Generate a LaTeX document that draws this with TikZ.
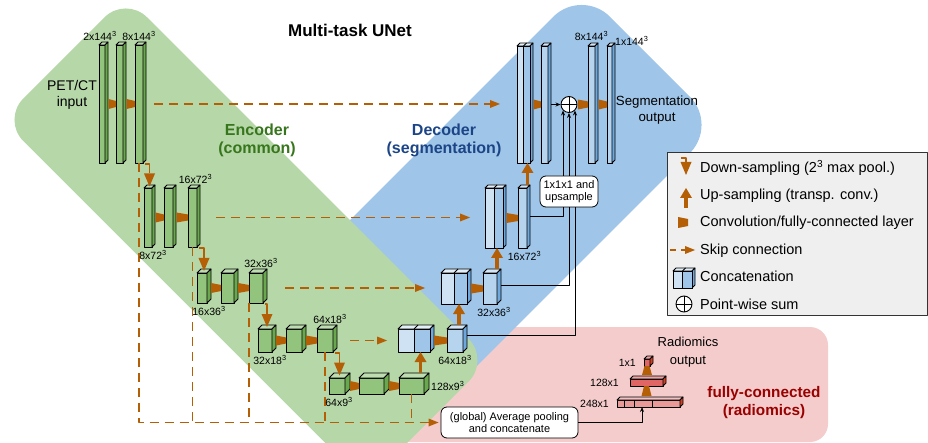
\documentclass[tikz,border=0pt]{standalone}
\usepackage{fontspec}
\setmainfont{Liberation Sans}
\usetikzlibrary{calc,positioning,arrows.meta}
\definecolor{bggreen}{HTML}{B6D7A8}
\definecolor{bgblue}{HTML}{9FC5E8}
\definecolor{bgpink}{HTML}{F4CCCC}
\definecolor{grnf}{HTML}{93C47D}
\definecolor{grns}{HTML}{6AA84F}
\definecolor{bluel}{HTML}{CFE2F3}
\definecolor{bluem}{HTML}{9FC5E8}
\definecolor{bluef}{HTML}{B7D4EE}
\definecolor{blues}{HTML}{6FA8DC}
\definecolor{pinkl}{HTML}{EA9999}
\definecolor{pinkm}{HTML}{E06666}
\definecolor{pinks}{HTML}{CC4125}
\definecolor{opc}{HTML}{B45F06}
\definecolor{enctxt}{HTML}{38761D}
\definecolor{dectxt}{HTML}{1C4587}
\definecolor{fctxt}{HTML}{990000}
\definecolor{lgd}{HTML}{EFEFEF}

\tikzset{
  fbox/.style={rectangle, draw, line width=0.8pt, inner sep=0pt, outer sep=0pt},
  boxline/.style={draw, line width=0.8pt, line join=round},
  bgband/.style={rectangle, inner sep=0pt, draw=none},
  dimlbl/.style={font=\fontsize{10.5}{12}\selectfont, inner sep=1pt},
  radlbl/.style={font=\fontsize{10.5}{12}\selectfont, inner sep=1pt},
  grouplbl/.style={font=\bfseries\fontsize{16}{18}\selectfont, align=center},
  txtlbl/.style={font=\fontsize{14}{15.5}\selectfont, align=center},
  lgtxt/.style={font=\fontsize{14.5}{16}\selectfont, anchor=base west, inner sep=0pt},
  notebox/.style={draw, fill=white, rounded corners=6pt, align=center, inner sep=1pt, line width=0.8pt, font=\fontsize{11}{12.5}\selectfont},
  sumop/.style={circle, draw, fill=white, minimum size=16pt, inner sep=0pt, line width=0.9pt},
  lnk/.style={draw, line width=0.9pt},
  lnkarr/.style={lnk, -{Stealth[length=5pt,width=4pt]}},
  skipdash/.style={draw=opc, line width=1.6pt, dash pattern=on 9pt off 6pt},
  skiparr/.style={skipdash, -{Triangle[length=10pt,width=8pt,line width=0pt]}},
  dnarr/.style={draw=opc, line width=1.2pt, -{Triangle[length=13pt,width=11pt,line width=0pt]}},
  uparr/.style={draw=opc, line width=3.5pt, -{Triangle[length=10pt,width=12pt,line width=0pt]}},
}

\newcommand{\featbox}[8]{%
  \node[fbox, fill=#7, minimum width={(#4-#2)*1pt}, minimum height={(#5-#3)*1pt}] (#1) at ({(#2+#4)/2},{(#3+#5)/2}) {};
  \filldraw[boxline, fill=#7!60!white] (#1.north west) -- ++(#6,-#6) -- ($(#1.north east)+(#6,-#6)$) -- (#1.north east) -- cycle;
  \filldraw[boxline, fill=#8] (#1.north east) -- ++(#6,-#6) -- ($(#1.south east)+(#6,-#6)$) -- (#1.south east) -- cycle;
}
\newcommand{\catbox}[6]{%
  \featbox{#1}{#2}{#3}{#4}{#5}{#6}{bluel}{blues}
  \filldraw[boxline, fill=bluem] (#1.north) rectangle (#1.south east);
  \draw[boxline] (#1.north) -- ++(#6,-#6);
}
\newcommand{\conv}[3][3.5]{%
  \fill[opc] ($(#2.east)+(#1,-5)$) -- ($(#2.east)+(#1,5)$) -- ($(#2.east -| #3.west)+(0,3)$) -- ($(#2.east -| #3.west)+(0,-3)$) -- cycle;
}
\newcommand{\vconv}[2]{%
  \fill[opc] ($(#2.south |- #1.north)+(-5,-4)$) -- ($(#2.south |- #1.north)+(5,-4)$) -- ($(#2.south)+(2.5,0)$) -- ($(#2.south)+(-2.5,0)$) -- cycle;
}

\begin{document}
\begin{tikzpicture}[x=1pt, y=-1pt, line join=round, >=stealth]
\useasboundingbox (0,0) rectangle (928,443);
\begin{scope}
  \clip (0,0) rectangle (928,443);
  \fill[bgpink, rounded corners=18pt] (380,327) rectangle (828,442);
  \node[bgband, fill=bgblue, rotate=45, rounded corners=40pt, minimum width=455pt, minimum height=193pt] (decbg) at (489,217.5) {};
  \node[bgband, fill=bggreen, rotate=-45, rounded corners=30pt, minimum width=515pt, minimum height=175pt] (encbg) at (246,240) {};
\end{scope}

\node[font=\bfseries\fontsize{17}{19}\selectfont] (ttl) at (350,30) {Multi-task UNet};
\node[txtlbl] (inp) at (72,95) {PET/CT\\input};
\node[grouplbl, text=enctxt] (enclbl) at (257,140) {Encoder\\(common)};
\node[grouplbl, text=dectxt] (declbl) at (444,140) {Decoder\\(segmentation)};
\node[txtlbl, font=\fontsize{13.3}{15.5}\selectfont] (segout) at (657,110) {Segmentation\\output};
\node[txtlbl, font=\fontsize{13}{18}\selectfont] (radout) at (688,352) {Radiomics\\output};
\node[grouplbl, text=fctxt, font=\bfseries\fontsize{15.3}{18}\selectfont] (fclbl) at (764,403) {fully-connected\\(radiomics)};

\featbox{s11}{99}{45}{105}{163}{3}{grnf}{grns}
\featbox{s12}{116}{45}{123}{163}{3}{grnf}{grns}
\featbox{s13}{135}{45}{143}{163}{3}{grnf}{grns}
\featbox{e21}{144}{188}{152}{247}{3}{grnf}{grns}
\featbox{e22}{164}{188}{173}{247}{3}{grnf}{grns}
\featbox{e23}{188}{188}{197}{247}{3}{grnf}{grns}
\featbox{e31}{197}{273}{207}{303}{4}{grnf}{grns}
\featbox{e32}{221}{273}{234}{303}{4}{grnf}{grns}
\featbox{e33}{249}{273}{263}{303}{4}{grnf}{grns}
\featbox{e41}{258}{329}{272}{352}{4}{grnf}{grns}
\featbox{e42}{286}{329}{302}{352}{4}{grnf}{grns}
\featbox{e43}{317}{329}{333}{352}{4}{grnf}{grns}
\featbox{e51}{329}{378}{345}{394}{5}{grnf}{grns}
\featbox{e52}{359}{378}{384}{394}{5}{grnf}{grns}
\featbox{e53}{399}{378}{424}{394}{5}{grnf}{grns}

\catbox{d41}{398}{329}{430}{352}{4}
\featbox{d42}{447}{329}{463}{352}{4}{bluef}{blues}
\catbox{d31}{441}{273}{467}{304}{4}
\featbox{d32}{483}{273}{497}{304}{4}{bluef}{blues}
\catbox{d21}{485}{188}{503}{248}{3}
\featbox{d22}{518}{188}{527}{248}{3}{bluef}{blues}
\catbox{d11}{517}{46}{530}{163}{3}
\featbox{d12}{541}{46}{548}{163}{3}{bluef}{blues}
\node[sumop] (sum) at (569,104.5) {};
\draw[lnk] (sum.north) -- (sum.south) (sum.west) -- (sum.east);
\featbox{d13}{588}{46}{595}{163}{3}{bluef}{blues}
\featbox{d14}{607}{46}{612}{163}{3}{bluef}{blues}

\featbox{r248}{617}{400}{680}{407}{3}{pinkl}{pinks}
\draw[boxline] ($(r248.north west)+(7,0)$) -- ($(r248.south west)+(7,0)$)
  ($(r248.north west)+(17,0)$) -- ($(r248.south west)+(17,0)$)
  ($(r248.north west)+(35,0)$) -- ($(r248.south west)+(35,0)$);
\featbox{r128}{630}{379}{663}{386}{3}{pinkm}{pinks}
\featbox{r1}{644}{359}{650}{366}{3}{pinkm}{pinks}

\node[notebox, minimum width=58pt, minimum height=31pt] (ups) at (569,191.5) {1x1x1 and\\upsample};
\node[notebox, minimum width=137pt, minimum height=31pt] (pool) at (509.5,422.5) {(global) Average pooling\\and concatenate};

\conv{s11}{s12} \conv{s12}{s13}
\conv{e21}{e22} \conv{e22}{e23}
\conv[4]{e31}{e32} \conv[4]{e32}{e33}
\conv[4]{e41}{e42} \conv[4]{e42}{e43}
\conv[5]{e51}{e52} \conv[5]{e52}{e53}
\conv[4]{d41}{d42} \conv[4]{d31}{d32}
\conv{d21}{d22} \conv{d11}{d12}
\conv[0.5]{sum}{d13} \conv{d13}{d14}
\vconv{r248}{r128} \vconv{r128}{r1}

\draw[skiparr, shorten <=11pt, shorten >=17pt] (s13.east) -- (s13.east -| d11.west);
\draw[skiparr, shorten <=19pt, shorten >=15pt] (e23.east) -- (e23.east -| d21.west);
\draw[skiparr, shorten <=22pt, shorten >=16pt] (e33.east) -- (e33.east -| d31.west);
\draw[skiparr, shorten <=17pt, shorten >=11pt] (e43.east) -- (e43.east -| d41.west);

\draw[skiparr, shorten >=2pt] (s13.south) |- (pool.west);
\draw[skipdash] (e23.south) -- (e23.south |- pool.west);
\draw[skipdash] (e33.south west) -- (e33.south west |- pool.west);
\draw[skipdash] (e43.south) -- (e43.south |- pool.west);
\draw[skipdash] (e53.south) -- (e53.south |- pool.west);

\draw[dnarr] ($(s13.south east)+(2,1)$) -| ($(e21.north)+(1.5,-1.5)$);
\draw[dnarr] ($(e23.south east)+(2,1)$) -| ($(e31.north)+(2,-2)$);
\draw[dnarr] ($(e33.south east)+(2,1)$) -| ($(e41.north)+(2,-2)$);
\draw[dnarr] ($(e43.south east)+(2,1)$) -| ($(e51.north)+(2.5,-2.5)$);

\draw[uparr] ($(e53.north)+(9,-5)$) -- ($(e53.north |- d41.south)+(9,0)$);
\draw[uparr] ($(d42.north)+(4,-4)$) -- ($(d42.north |- d31.south)+(4,0)$);
\draw[uparr] ($(d32.north)+(7,-4)$) -- ($(d32.north |- d21.south)+(7,0)$);
\draw[uparr] ($(d22.north)+(5,-3)$) -- ($(d22.north |- d11.south)+(5,0)$);

\draw[lnkarr] ($(d12.east)+(3,0)$) -- (sum.west);
\draw[lnk] ($(d22.east)+(3,-2)$) -| (sum.south west |- ups.south);
\draw[lnk] ($(d32.east)+(4,-3)$) -| (sum.south |- ups.south);
\draw[lnk] ($(d42.east)+(4,-5)$) -| (sum.south east |- ups.south);
\draw[lnkarr] (sum.south west |- ups.north) -- (sum.south west);
\draw[lnkarr] (sum.south |- ups.north) -- (sum.south);
\draw[lnkarr] (sum.south east |- ups.north) -- (sum.south east);
\draw[lnkarr] (pool.east) -| ($(r248.south west)+(25,0)$);

\node[dimlbl, above=3pt of s11, xshift=-2pt] (ls11) {2x144\textsuperscript{3}};
\node[dimlbl, above=3pt of s13] (ls13) {8x144\textsuperscript{3}};
\node[dimlbl, below=2pt of e21, xshift=5pt] (le21) {8x72\textsuperscript{3}};
\node[dimlbl, above=3pt of e23, xshift=3pt] (le23) {16x72\textsuperscript{3}};
\node[dimlbl, below=2pt of e31, xshift=7pt] (le31) {16x36\textsuperscript{3}};
\node[dimlbl, above=4pt of e33, xshift=5pt] (le33) {32x36\textsuperscript{3}};
\node[dimlbl, below=2pt of e41, xshift=5pt] (le41) {32x18\textsuperscript{3}};
\node[dimlbl, above=4pt of e43, xshift=5pt] (le43) {64x18\textsuperscript{3}};
\node[dimlbl, below=2pt of e51, xshift=2pt] (le51) {64x9\textsuperscript{3}};
\node[dimlbl, right=6pt of e53] (le53) {128x9\textsuperscript{3}};
\node[dimlbl, below=2pt of d42] (ld42) {64x18\textsuperscript{3}};
\node[dimlbl, below=2pt of d32, xshift=4pt] (ld32) {32x36\textsuperscript{3}};
\node[dimlbl, below=2pt of d22, xshift=2pt] (ld22) {16x72\textsuperscript{3}};
\node[dimlbl, above=4pt of d13] (ld13) {8x144\textsuperscript{3}};
\node[dimlbl, anchor=west] (ld14) at ($(d14.north east)+(2,-5)$) {1x144\textsuperscript{3}};
\node[radlbl, left=7pt of r248] (lr248) {248x1};
\node[radlbl, left=10pt of r128] (lr128) {128x1};
\node[radlbl, left=7pt of r1] (lr1) {1x1};

\node[draw=black!80, fill=lgd, line width=0.8pt, minimum width=260pt, minimum height=163pt, inner sep=0pt] (lgnd) at (797,233.5) {};
\node[lgtxt] (lg1) at (700,173) {Down-sampling (2\textsuperscript{3} max pool.)};
\node[lgtxt] (lg2) at (700,200) {Up-sampling (transp. conv.)};
\node[lgtxt] (lg3) at (700,227) {Convolution/fully-connected layer};
\node[lgtxt] (lg4) at (700,255) {Skip connection};
\node[lgtxt] (lg5) at (700,282) {Concatenation};
\node[lgtxt] (lg6) at (700,309) {Point-wise sum};
\draw[dnarr] (681,158) -| (686,175);
\draw[uparr] (686,208) -- (686,188);
\fill[opc] (678,217) -- (678,228) -- (688,226) -- (688,219) -- cycle;
\draw[skiparr, dash pattern=on 6pt off 5pt] (670,250) -- (695,250);
\catbox{lcat}{673}{271}{692}{288}{3}
\node[sumop] (lsum) at (684,304) {};
\draw[lnk] (lsum.north) -- (lsum.south) (lsum.west) -- (lsum.east);
\end{tikzpicture}
\end{document}
